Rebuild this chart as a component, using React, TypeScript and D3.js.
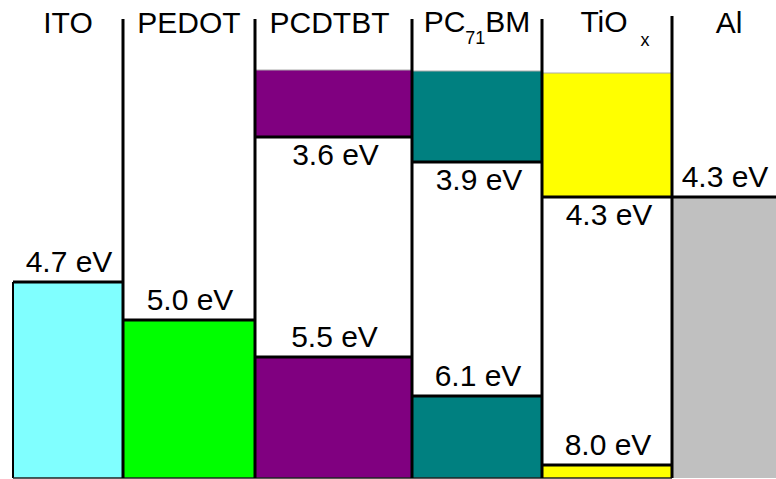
import React from "react";
import * as d3 from "d3";

// ---- data ----
const materials = ["ITO", "PEDOT", "PCDTBT", "PC71BM", "TiOx", "Al"];
const lumoLevels: (number | null)[] = [null, null, 3.6, 3.9, 4.3, null];
const homoLevels: number[] = [4.7, 5.0, 5.5, 6.1, 8.0, 4.3];
const fillColors = ["#80FFFF", "#00FF00", "#800080", "#008080", "#FFFF00", "#C0C0C0"];

// ---- layout ----
const W = 776;
const H = 479;
const bottomY = 478;
const bandTops = [70, 70, 70, 71, 73, 70];
const colEdges = [13, 123, 255, 412, 542, 672, 776];
const dividerTops = [19, 19, 19, 19, 16];

export default function App() {
  // schematic (not-to-scale) energy axis: piecewise linear scale
  const levels = Array.from(
    new Set([...(lumoLevels.filter((v) => v !== null) as number[]), ...homoLevels])
  ).sort((a, b) => a - b);
  const y = d3
    .scaleLinear()
    .domain(levels) // 3.6,3.9,4.3,4.7,5.0,5.5,6.1,8.0
    .range([137, 162, 197, 282, 320, 357, 396, 465]);

  const x0 = (i: number) => colEdges[i];
  const x1 = (i: number) => colEdges[i + 1];
  const xc = (i: number) => (colEdges[i] + colEdges[i + 1]) / 2;
  const font = "'Liberation Sans', Arial, Helvetica, sans-serif";
  const fs = 30;
  const titleY = 33;

  const renderTitle = (name: string, i: number) => {
    const cx = xc(i) + (i === 4 ? 8 : i === 5 ? 5 : i === 2 ? -4 : 0);
    if (name === "PC71BM") {
      return (
        <text key={"t" + i} x={cx} y={titleY - 1} textAnchor="middle" fontSize={fs} fontFamily={font}>
          PC
          <tspan fontSize={18} dy={12}>71</tspan>
          <tspan dy={-12}>BM</tspan>
        </text>
      );
    }
    if (name === "TiOx") {
      return (
        <text key={"t" + i} x={cx} y={titleY - 1} textAnchor="middle" fontSize={fs} fontFamily={font}>
          TiO
          <tspan fontSize={18} dx={13} dy={14}>x</tspan>
        </text>
      );
    }
    return (
      <text key={"t" + i} x={cx} y={titleY} textAnchor="middle" fontSize={fs} fontFamily={font}>
        {name}
      </text>
    );
  };

  return (
    <svg
      width={W}
      height={H}
      style={{ position: "absolute", left: 0, top: 0, background: "#fff" }}
    >
      <rect x={0} y={0} width={W} height={H} fill="#fff" />
      {/* LUMO bands */}
      {lumoLevels.map((l, i) =>
        l === null ? null : (
          <g key={"l" + i}>
            <rect x={x0(i)} y={bandTops[i]} width={x1(i) - x0(i)} height={y(l) - bandTops[i]} fill={fillColors[i]} />
            <line x1={x0(i)} x2={x1(i)} y1={bandTops[i]} y2={bandTops[i]} stroke="#aaa" strokeWidth={1} />
            <line x1={x0(i)} x2={x1(i)} y1={y(l)} y2={y(l)} stroke="#000" strokeWidth={3} />
            <text x={xc(i) + 2} y={y(l) + 28} textAnchor="middle" fontSize={fs} fontFamily={font}>
              {l.toFixed(1)} eV
            </text>
          </g>
        )
      )}
      {/* HOMO / work function bands */}
      {homoLevels.map((h, i) => (
        <g key={"h" + i}>
          <rect x={x0(i)} y={y(h)} width={x1(i) - x0(i)} height={bottomY - y(h)} fill={fillColors[i]} />
          <line x1={x0(i)} x2={x1(i)} y1={y(h)} y2={y(h)} stroke="#000" strokeWidth={3} />
          <text x={xc(i) + 1} y={y(h) - 10} textAnchor="middle" fontSize={fs} fontFamily={font}>
            {h.toFixed(1)} eV
          </text>
        </g>
      ))}
      {/* ITO left edge */}
      <line x1={x0(0)} x2={x0(0)} y1={y(homoLevels[0])} y2={bottomY} stroke="#000" strokeWidth={2} />
      {/* bottom edge */}
      <line x1={x0(0)} x2={x0(5)} y1={bottomY} y2={bottomY} stroke="#222" strokeWidth={1.5} />
      {/* dividers */}
      {dividerTops.map((t, k) => (
        <line key={"d" + k} x1={colEdges[k + 1]} x2={colEdges[k + 1]} y1={t} y2={bottomY} stroke="#000" strokeWidth={3} />
      ))}
      {materials.map((m, i) => renderTitle(m, i))}
    </svg>
  );
}
